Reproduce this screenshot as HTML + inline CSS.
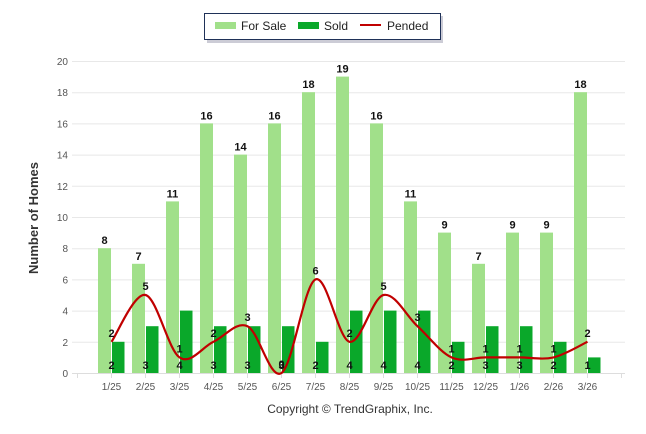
<!DOCTYPE html>
<html><head><meta charset="utf-8"><style>
body{margin:0;background:#fff;}
svg{display:block;font-family:"Liberation Sans",sans-serif;}
</style></head><body>
<svg id="chart" width="646" height="434">
<g id="grid"></g>
<g id="bars"></g>
<g id="line"></g>
<g id="labels"></g>
<text x="38" y="218" transform="rotate(-90 38 218)" text-anchor="middle" font-size="13" font-weight="bold" fill="#333">Number of Homes</text>
<text x="350" y="413" text-anchor="middle" font-size="12" fill="#333">Copyright © TrendGraphix, Inc.</text>
<g>
<rect x="207" y="16" width="236" height="27" fill="#aab" opacity="0.6"/>
<rect x="204.5" y="13.5" width="236" height="26" fill="#fff" stroke="#1f3158" stroke-width="1"/>
<rect x="215" y="22" width="21" height="7" fill="#a1e08a"/>
<text x="241" y="30" font-size="12" fill="#222">For Sale</text>
<rect x="298" y="22" width="21" height="7" fill="#0aa82a"/>
<text x="324" y="30" font-size="12" fill="#222">Sold</text>
<rect x="360" y="24" width="21" height="2" fill="#c00000"/>
<text x="387" y="30" font-size="12" fill="#222">Pended</text>
</g>
</svg>
<script>
const categories=["1/25","2/25","3/25","4/25","5/25","6/25","7/25","8/25","9/25","10/25","11/25","12/25","1/26","2/26","3/26"];
const forSale=[8,7,11,16,14,16,18,19,16,11,9,7,9,9,18];
const sold=[2,3,4,3,3,3,2,4,4,4,2,3,3,2,1];
const pended=[2,5,1,2,3,0,6,2,5,3,1,1,1,1,2];
const yTicks=[0,2,4,6,8,10,12,14,16,18,20];
const NS="http://www.w3.org/2000/svg";
const y=v=>373-v*15.6;
const x=i=>111.5+i*34;
function mk(tag,attrs,parent,txt){const e=document.createElementNS(NS,tag);for(const k in attrs)e.setAttribute(k,attrs[k]);if(txt!==undefined)e.textContent=txt;parent.appendChild(e);return e;}
const grid=document.getElementById('grid'),bars=document.getElementById('bars'),line=document.getElementById('line'),labels=document.getElementById('labels');
yTicks.forEach(t=>{
 const l=mk('line',{x1:72,x2:625,y1:y(t)+0.5,y2:y(t)+0.5,stroke:t===0?'#ddd':'#e8e8e8','stroke-width':1},grid);
 
 
 const tx=mk('text',{x:68,y:y(t)+4,'text-anchor':'end','font-size':10,fill:'#555'},grid,t);
 
 
});
for(let i=0;i<=categories.length+1;i++){
 const tk=mk('line',{x1:77.5+i*34,x2:77.5+i*34,y1:374,y2:378,stroke:'#ddd'},grid);
 
 
}
categories.forEach((c,i)=>{
 const t=mk('text',{x:x(i),y:390,'text-anchor':'middle','font-size':10,fill:'#555'},grid,c);
 
 
 const b1=mk('rect',{x:x(i)-13.5,y:y(forSale[i]),width:13,height:forSale[i]*15.6,fill:'#a1e08a'},bars);
 
 
 const b2=mk('rect',{x:x(i)+0.5,y:y(sold[i]),width:12.5,height:sold[i]*15.6,fill:'#0aa82a'},bars);
 
 
 const l1=mk('text',{x:x(i)-7,y:y(forSale[i])-4,'text-anchor':'middle','font-size':11,'font-weight':'bold',fill:'#111'},labels,forSale[i]);
 
 
 const l2=mk('text',{x:x(i),y:369,'text-anchor':'middle','font-size':11,'font-weight':'bold',fill:'#111'},labels,sold[i]);
 
 
 const l3=mk('text',{x:x(i),y:y(pended[i])-5,'text-anchor':'middle','font-size':11,'font-weight':'bold',fill:'#111'},labels,pended[i]);
 
 
});
const pts=pended.map((v,i)=>[x(i),y(v)]);
let d=`M${pts[0][0]},${pts[0][1]}`;
for(let i=0;i<pts.length-1;i++){
 const p0=pts[Math.max(0,i-1)],p1=pts[i],p2=pts[i+1],p3=pts[Math.min(pts.length-1,i+2)];
 const t=0.5/3*2;
 const c1=[p1[0]+(p2[0]-p0[0])*t/2,p1[1]+(p2[1]-p0[1])*t/2];
 const c2=[p2[0]-(p3[0]-p1[0])*t/2,p2[1]-(p3[1]-p1[1])*t/2];
 d+=` C${c1[0]},${c1[1]} ${c2[0]},${c2[1]} ${p2[0]},${p2[1]}`;
}
const path=mk('path',{d:d,fill:'none',stroke:'#c00000','stroke-width':2.2},line);


</script>
</body></html>
